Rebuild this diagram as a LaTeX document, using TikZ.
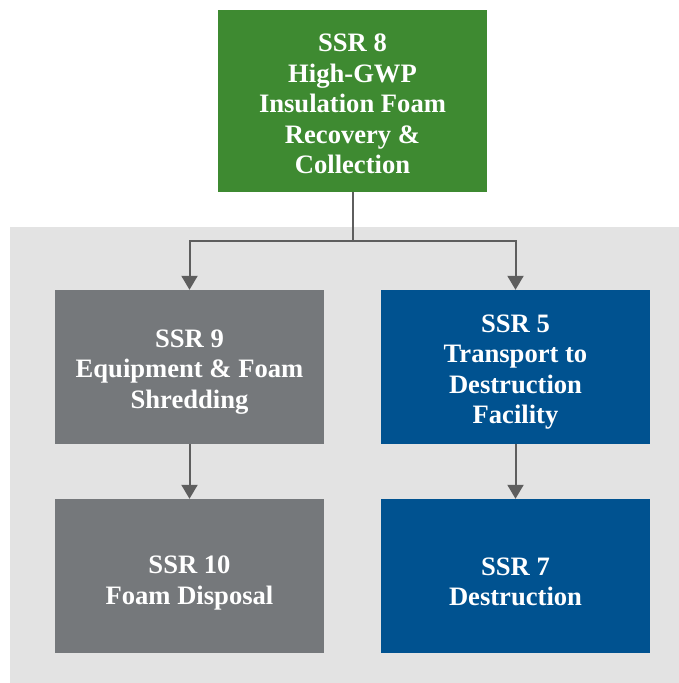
\documentclass[tikz,border=0pt]{standalone}
\usepackage{fontspec}
\setmainfont{Liberation Serif}
\usetikzlibrary{arrows.meta}
\definecolor{bggrey}{HTML}{E3E3E3}
\definecolor{boxgreen}{HTML}{3E8A31}
\definecolor{boxgrey}{HTML}{75787B}
\definecolor{boxblue}{HTML}{005290}
\definecolor{linegrey}{HTML}{5E5E5E}
\begin{document}
\begin{tikzpicture}[x=1pt,y=-1pt,
  box/.style={rectangle, minimum width=269pt, inner sep=0pt},
  boxtext/.style={inner sep=0pt, text=white,
    font=\bfseries\fontsize{26.6}{30.5}\selectfont, align=center},
  conn/.style={draw=linegrey, line width=2pt, -{Triangle[width=16pt,length=14pt]}}]
\useasboundingbox (0,0) rectangle (679,683);
\fill[white] (0,0) rectangle (679,683);
\fill[bggrey] (10,227) rectangle (679,683);
\node[box, fill=boxgreen, minimum height=182pt] (s8) at (352.5,101) {};
\node[boxtext, yshift=-3pt] (t8) at (s8.center) {SSR 8\\High-GWP\\Insulation Foam\\Recovery \&\\Collection};
\node[box, fill=boxgrey, minimum height=154pt] (s9) at (189.5,367) {};
\node[boxtext, yshift=-5pt] (t9) at (s9.center) {SSR 9\\Equipment \& Foam\\Shredding};
\node[box, fill=boxblue, minimum height=154pt] (s5) at (515.5,367) {};
\node[boxtext, yshift=-5pt] (t5) at (s5.center) {SSR 5\\Transport to\\Destruction\\Facility};
\node[box, fill=boxgrey, minimum height=154pt] (s10) at (189.5,576) {};
\node[boxtext, yshift=-7pt] (t10) at (s10.center) {SSR 10\\Foam Disposal};
\node[box, fill=boxblue, minimum height=154pt] (s7) at (515.5,576) {};
\node[boxtext, yshift=-6pt] (t7) at (s7.center) {SSR 7\\Destruction};
\coordinate (j) at (352.5,241);
\draw[draw=linegrey, line width=2pt] (s8.south) -- (j);
\draw[conn] (j) -| (s9.north);
\draw[conn] (j) -| (s5.north);
\draw[conn] (s9) -- (s10);
\draw[conn] (s5) -- (s7);
\end{tikzpicture}
\end{document}
